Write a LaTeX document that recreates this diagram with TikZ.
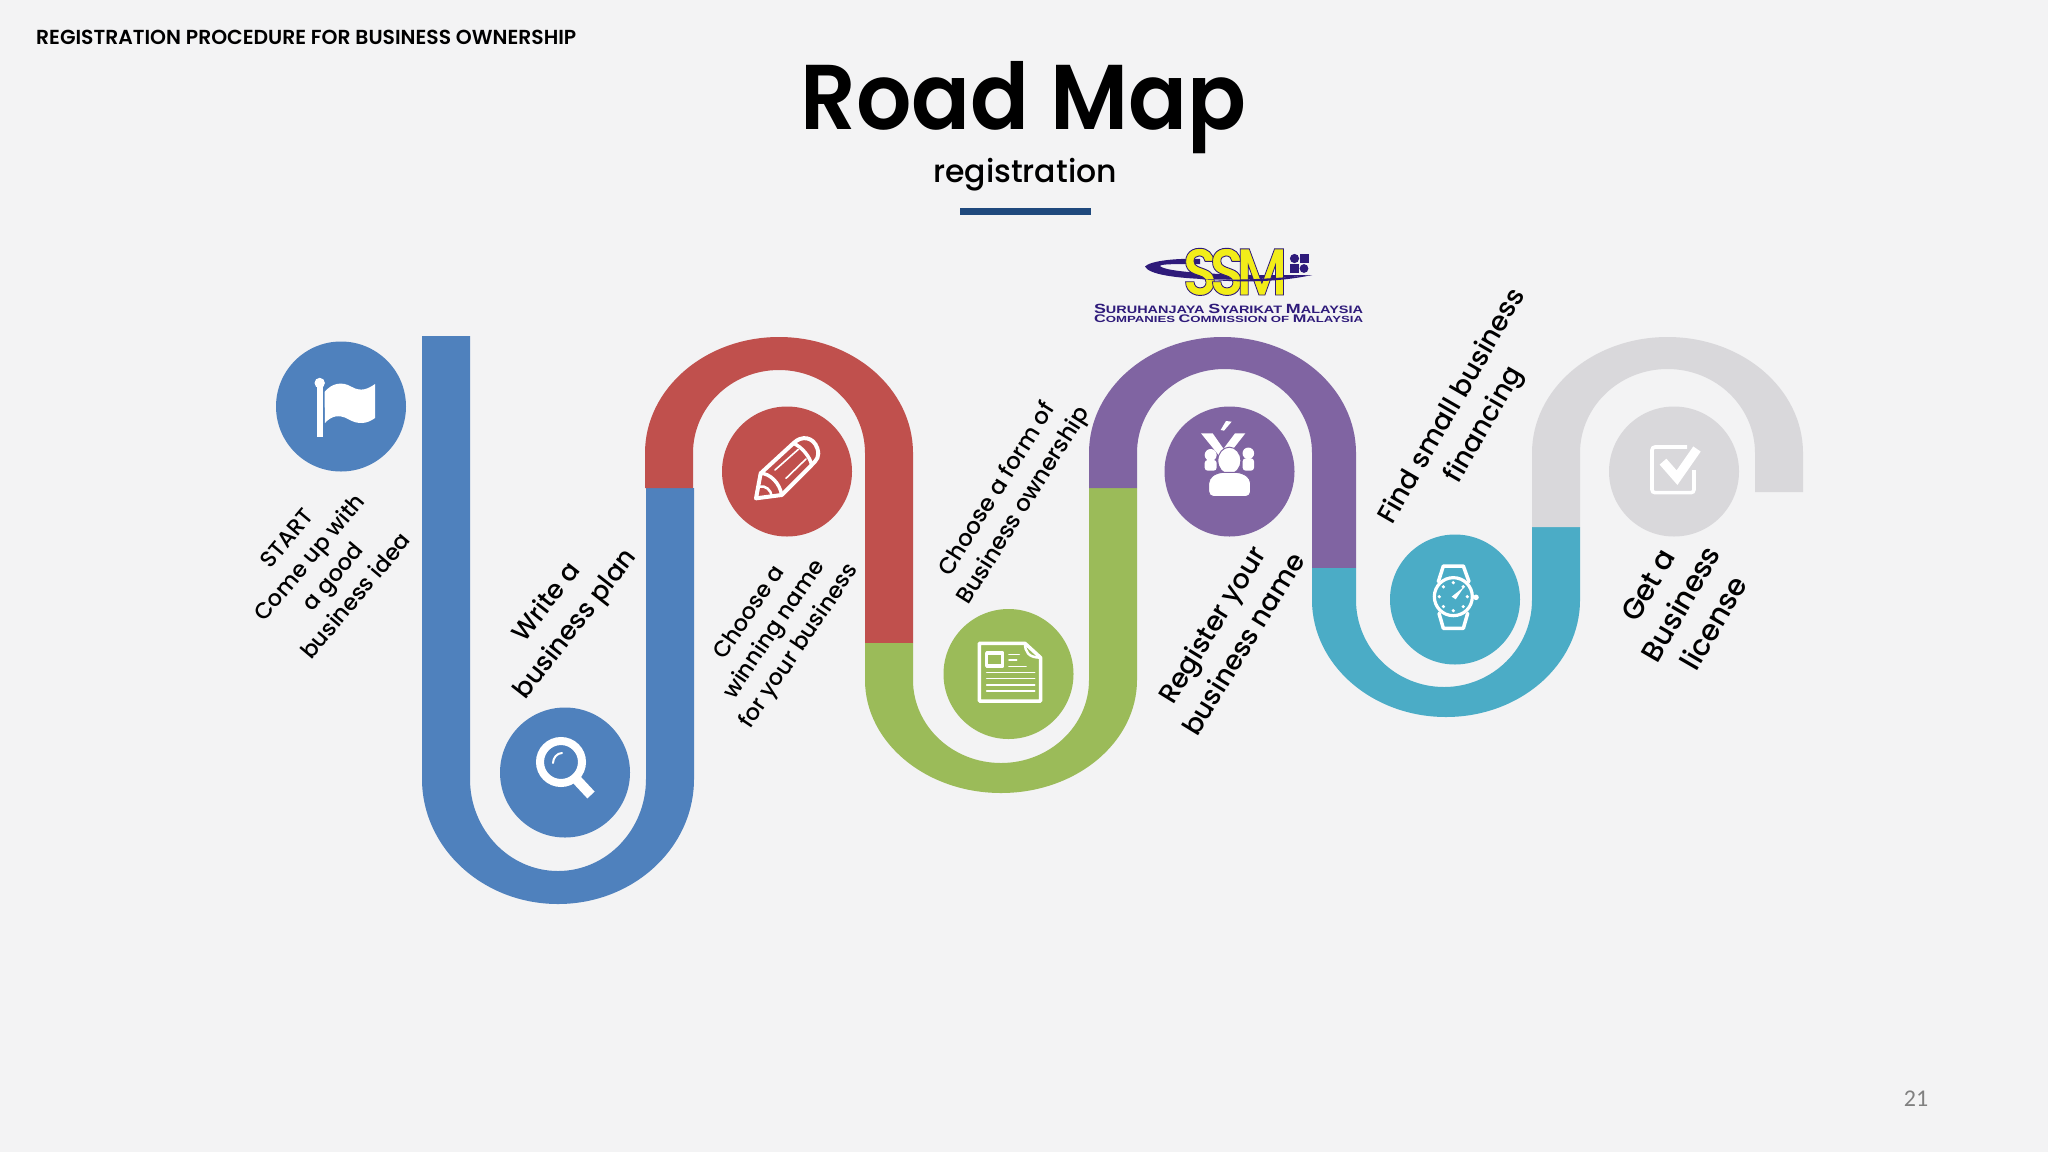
\documentclass[tikz,border=0pt]{standalone}
\usepackage{fontspec}
\usepackage{graphicx}
\setmainfont{Poppins}
\newfontfamily\pmed{Poppins Medium}
\newfontfamily\psemi{Poppins SemiBold}
\newfontfamily\pssm{Poppins SemiBold}[FakeBold=1.4]
\newfontfamily\liber{Liberation Sans}
\newfontfamily\carl{Carlito}
\definecolor{bgc}{HTML}{F3F3F4}
\definecolor{cblue}{HTML}{4F81BD}
\definecolor{cred}{HTML}{C0504D}
\definecolor{cgreen}{HTML}{9BBB59}
\definecolor{cpurple}{HTML}{8064A2}
\definecolor{cteal}{HTML}{4BACC6}
\definecolor{cgrey}{HTML}{D9D8DB}
\definecolor{cbar}{HTML}{1F497D}
\definecolor{ssmink}{HTML}{2E1A7A}
\newcommand{\lab}[2]{\fontsize{#1}{#2}\pmed\selectfont}
\newcommand{\bigc}[1]{{\fontsize{13}{13}\selectfont #1}}
\newcommand{\smlc}[1]{{\fontsize{10.5}{13}\selectfont #1}}
\tikzset{
  badge/.style={circle,minimum size=130pt,inner sep=0pt,fill=#1},
  iconl/.style={draw=white,line width=#1,line join=round,line cap=round},
  iconl/.default=4pt,
  steplabel/.style={align=center,text=black,inner sep=0pt,anchor=center}
}
\begin{document}
\begin{tikzpicture}[x=1pt,y=-1pt]
\useasboundingbox (0,0) rectangle (2048,1152);
\fill[bgc] (0,0) rectangle (2048,1152);

% heading
\node[anchor=base west,inner sep=0pt] (hdr) at (36,44) {\fontsize{20.3}{24}\psemi\selectfont REGISTRATION PROCEDURE FOR BUSINESS OWNERSHIP};
\node[anchor=base,inner sep=0pt] (title) at (1023.5,129) {\scalebox{.945}[1]{\fontsize{92}{100}\psemi\selectfont Road Map}};
\node[anchor=base,inner sep=0pt] (subt) at (1025,182) {\fontsize{31.5}{36}\pmed\selectfont registration};
\fill[cbar] (960,208) rectangle (1091,215);
\node[anchor=base,inner sep=0pt,text=black!50] (pg) at (1916,1106) {\fontsize{24}{28}\carl\selectfont 21};

% track
\fill[cblue] (422,336) -- (422,779) arc[start angle=180,end angle=360,x radius=136pt,y radius=125pt]
  -- (694,488) -- (646,488) -- (646,779) arc[start angle=0,end angle=-180,x radius=88pt,y radius=92pt] -- (470,336) -- cycle;
\fill[cred] (645,488) -- (645,453) arc[start angle=180,end angle=0,x radius=134pt,y radius=116pt]
  -- (913,643) -- (865,643) -- (865,453) arc[start angle=0,end angle=180,x radius=86pt,y radius=83pt] -- (693,488) -- cycle;
\fill[cgreen] (865,643) -- (865,680) arc[start angle=180,end angle=360,x radius=136pt,y radius=113pt]
  -- (1137,488) -- (1089,488) -- (1089,680) arc[start angle=0,end angle=-180,x radius=88pt,y radius=83pt] -- (913,643) -- cycle;
\fill[cpurple] (1089,488) -- (1089,453) arc[start angle=180,end angle=0,x radius=133.5pt,y radius=116pt]
  -- (1356,568) -- (1312,568) -- (1312,453) arc[start angle=0,end angle=180,x radius=87.5pt,y radius=84pt] -- (1137,488) -- cycle;
\fill[cteal] (1312,568) -- (1312,600) arc[start angle=180,end angle=360,x radius=134pt,y radius=117pt]
  -- (1580,527) -- (1532,527) -- (1532,600) arc[start angle=0,end angle=-180,x radius=88pt,y radius=87pt] -- (1356,568) -- cycle;
\fill[cgrey] (1532,527) -- (1532,453) arc[start angle=180,end angle=0,x radius=135.5pt,y radius=116pt]
  -- (1803,492) -- (1755,492) -- (1755,453) arc[start angle=0,end angle=180,x radius=87.5pt,y radius=84pt] -- (1580,527) -- cycle;

% badges
\node[badge=cblue] (n1) at (341,406.5) {};
\node[badge=cblue] (n2) at (565,772.5) {};
\node[badge=cred] (n3) at (787,471.5) {};
\node[badge=cgreen] (n4) at (1008.5,674) {};
\node[badge=cpurple] (n5) at (1229.5,471.5) {};
\node[badge=cteal] (n6) at (1455,599.5) {};
\node[badge=cgrey] (n7) at (1674,471.5) {};

% flag
\fill[white] (317,385) rectangle (322.5,437);
\fill[white] (319.7,383) circle (5.2pt);
\fill[white] (324.5,392) .. controls (332,383) and (342,381) .. (352,387) .. controls (361,392) and (368,389) .. (375,384)
  -- (375,418) .. controls (367,424) and (358,425) .. (348,419) .. controls (339,414) and (331,416) .. (325,423) -- cycle;

% magnifier
\draw[white,line width=8pt] (561,762) circle (21pt);
\draw[white,line width=10pt] (577,780) -- (591,795);
\draw[white,line width=2pt,line cap=round] (553,763) .. controls (553,758) and (557,753) .. (562,753);

% pencil
\begin{scope}[shift={(730,415)},x=.3333pt,y=-.3333pt]
\draw[iconl=4pt] (78,250) -- (92,175) -- (190,85) .. controls (215,60) and (250,65) .. (262,100) .. controls (270,125) and (260,135) .. (245,150)
  -- (155,240) -- cycle;
\draw[iconl=3.5pt] (92,175) .. controls (120,175) and (150,205) .. (155,240);
\draw[iconl=3.5pt] (190,85) .. controls (215,95) and (240,125) .. (245,150);
\draw[iconl=1.6pt] (135,165) -- (205,103);
\draw[iconl=1.6pt] (168,190) -- (228,132);
\draw[iconl=2.5pt] (88,215) .. controls (105,210) and (125,225) .. (125,245);
\end{scope}

% newspaper
\begin{scope}[shift={(950,615)},x=.3333pt,y=-.3333pt]
\draw[iconl=3.5pt] (225,85) -- (88,85) -- (88,258) -- (272,258) -- (272,128) -- cycle;
\draw[iconl=2.5pt] (225,85) .. controls (225,110) and (235,128) .. (272,128);
\draw[iconl=3.5pt,line cap=butt] (110,114) rectangle (158,153);
\draw[iconl=1.6pt] (177,118) -- (208,118);
\draw[iconl=1.6pt] (177,135) -- (200,135);
\draw[iconl=1.6pt] (177,154) -- (228,154);
\foreach \yy in {172,190,210,228} {\draw[iconl=1.6pt] (110,\yy) -- (254,\yy);}
\end{scope}

% people
\begin{scope}[shift={(1170,410)},x=.3333pt,y=-.3333pt]
\fill[white] (152,60) -- (168,33) -- (185,35) -- (162,62) -- cycle;
\fill[white] (122,135) circle (6pt);
\fill[white,rounded corners=3pt] (104,182) -- (104,150) -- (140,150) -- (140,182) -- cycle;
\fill[white] (235,130) circle (5.8pt);
\fill[white,rounded corners=3pt] (218,182) -- (218,145) -- (252,145) -- (252,182) -- cycle;
\fill[white] (93,70) -- (128,70) -- (170,130) -- (150,140) -- cycle;
\fill[white] (226,70) -- (195,70) -- (150,130) -- (175,135) -- cycle;
\filldraw[fill=white,draw=cpurple,line width=1pt] (178,152) ellipse (11.5pt and 13.5pt);
\filldraw[fill=white,draw=cpurple,line width=1pt,rounded corners=5pt] (116,260) -- (116,205) -- (145,187) -- (212,187) -- (242,205) -- (242,260) -- cycle;
\end{scope}

% watch
\begin{scope}[shift={(1395,540)},x=.3333pt,y=-.3333pt]
\draw[iconl=3.5pt] (130,125) -- (145,78) -- (205,78) -- (222,125);
\draw[iconl=3.5pt] (132,220) -- (145,265) -- (205,265) -- (218,220);
\draw[white,line width=3.2pt] (175,170) circle (19pt);
\fill[white] (243,172) circle (2.8pt);
\foreach \aa in {-90,-45,0,45,90,135,180,225} {\fill[white] (175,170) ++(\aa:42) circle (1.8pt);}
\fill[white] (170,170) -- (208,140) -- (182,178) -- cycle;
\end{scope}

% check
\begin{scope}[shift={(1613,415)},x=.3333pt,y=-.3333pt]
\draw[white,line width=3.6pt,rounded corners=3pt] (222,96) -- (117,96) -- (117,233) -- (243,233) -- (243,165);
\draw[white,line width=9pt] (150,140) -- (192,188) -- (252,102);
\end{scope}

% logo
\fill[ssmink] (1145,266.5) .. controls (1150,261) and (1175,258) .. (1200,259) -- (1200,264)
  .. controls (1175,264) and (1160,264) .. (1160,266) .. controls (1165,272) and (1220,276) .. (1312,275)
  .. controls (1250,282) and (1152,282) .. (1145,266.5) -- cycle;
\node[inner sep=0pt,anchor=base] (ssm) at (1235,295) {\scalebox{.86}[1]{\fontsize{66}{70}\pssm\selectfont\special{pdf:bcolor [0.95 0.93 0.10] [0.18 0.10 0.48]}S\kern-9pt S\kern-9pt M\special{pdf:ecolor}}};
\fill[ssmink] (1200,279) .. controls (1240,281) and (1280,278) .. (1312,275) .. controls (1280,282) and (1240,283) .. (1200,279) -- cycle;
\fill[ssmink] (1294.5,258.5) circle (4.6pt);
\fill[ssmink] (1299.5,254) rectangle (1308.7,263.2);
\fill[ssmink] (1289.5,263.5) rectangle (1298.5,272.5);
\fill[ssmink] (1304,268.5) circle (4.4pt);
\node[inner sep=0pt,anchor=base,text=ssmink] (ssm1) at (1228.5,313) {\resizebox{269pt}{9.3pt}{\liber\bfseries \bigc{S}\smlc{URUHANJAYA} \bigc{S}\smlc{YARIKAT} \bigc{M}\smlc{ALAYSIA}}};
\node[inner sep=0pt,anchor=base,text=ssmink] (ssm2) at (1228.5,322.7) {\resizebox{269pt}{7.7pt}{\liber\bfseries \bigc{C}\smlc{OMPANIES} \bigc{C}\smlc{OMMISSION OF} \bigc{M}\smlc{ALAYSIA}}};

% step labels
\node[steplabel,rotate=50,font=\lab{22.5}{30}] (t1) at (321,567) {START\\Come up with\\a good\\business idea};
\node[steplabel,rotate=52,font=\lab{26}{36}] (t2) at (562,614) {Write a\\business plan};
\node[steplabel,rotate=56,font=\lab{22.5}{30}] (t3) at (775,630) {Choose a\\winning name\\for your business};
\node[steplabel,rotate=58,font=\lab{23}{31}] (t4) at (1011,498) {Choose a form of\\Business ownership};
\node[steplabel,rotate=58.5,font=\lab{27}{37}] (t5) at (1227,634) {Register your\\business name};
\node[steplabel,rotate=60,font=\lab{27}{37}] (t6) at (1469,416) {Find small business\\financing};
\node[steplabel,rotate=60,font=\lab{29}{38}] (t7) at (1681,604) {Get a\\Business\\license};
\end{tikzpicture}
\end{document}
